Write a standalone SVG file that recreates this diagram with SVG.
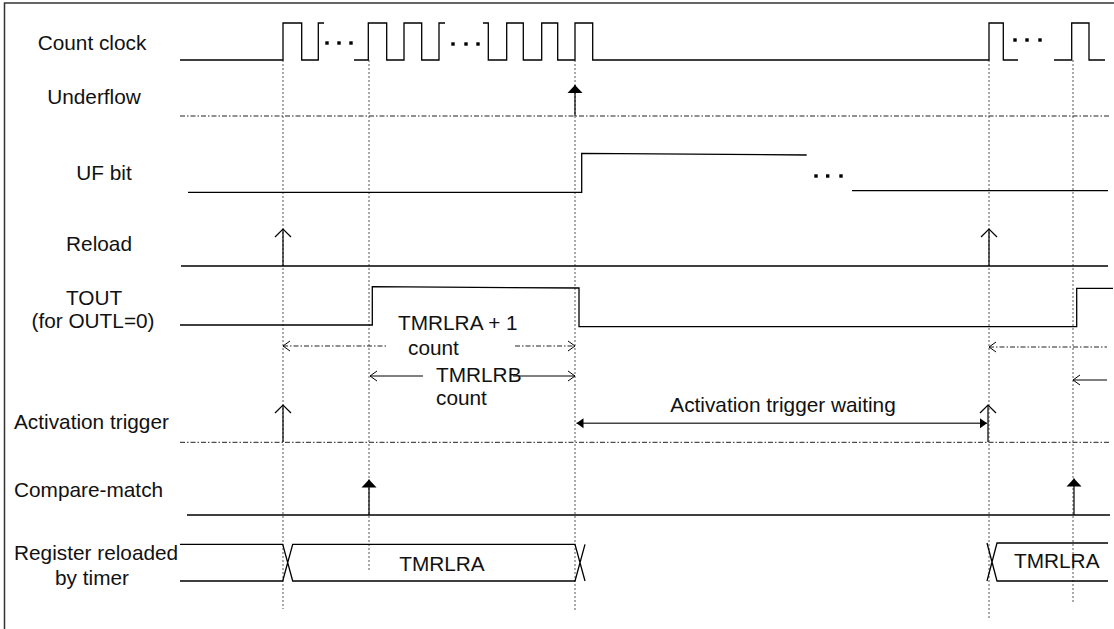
<svg xmlns="http://www.w3.org/2000/svg" width="1114" height="629" viewBox="0 0 1114 629">
<defs>
<style>
text{font-family:"Liberation Sans",Arial,sans-serif;font-size:20.8px;fill:#111}
.lbl{text-anchor:middle}
.w{fill:none;stroke:#000;stroke-width:1.3}
.dd{fill:none;stroke:#222;stroke-width:1;stroke-dasharray:5 2 1.5 2}
.guide{fill:none;stroke:#555;stroke-width:1;stroke-dasharray:2 2}
.ar{fill:none;stroke:#000;stroke-width:1.2}
.dot{fill:#000}
</style>
<marker id="vopen" markerUnits="userSpaceOnUse" orient="auto" overflow="visible" refX="0" refY="0" markerWidth="20" markerHeight="20"><path d="M-8,-8 L0,0 L-8,8" fill="none" stroke="#000" stroke-width="1.2"/></marker>
<marker id="dopen" markerUnits="userSpaceOnUse" orient="auto-start-reverse" overflow="visible" refX="0" refY="0" markerWidth="20" markerHeight="20"><path d="M-7,-5 L0,0 L-7,5" fill="none" stroke="#000" stroke-width="1"/></marker>
<marker id="ftri" markerUnits="userSpaceOnUse" orient="auto" overflow="visible" refX="0" refY="0" markerWidth="20" markerHeight="20"><path d="M-8,-7.5 L0,0 L-8,7.5 Z" fill="#000"/></marker>
<marker id="fsm" markerUnits="userSpaceOnUse" orient="auto-start-reverse" overflow="visible" refX="0" refY="0" markerWidth="20" markerHeight="20"><path d="M-7,-5 L0,0 L-7,5 Z" fill="#000"/></marker>
</defs>
<rect width="1114" height="629" fill="#fff"/>
<path d="M4.5,629 V3 H1114" fill="none" stroke="#333" stroke-width="1.5"/>

<g id="connectors">
  <path class="guide" d="M283,60 V609 M369,60 V572 M575,60 V611 M989,60 V618 M1073,60 V602"/>
  <path class="ar" d="M575,116 V85" marker-end="url(#ftri)"/>
  <path class="ar" d="M283,266 V229" marker-end="url(#vopen)"/>
  <path class="ar" d="M989,266 V229" marker-end="url(#vopen)"/>
  <path class="ar" d="M283,442 V405" marker-end="url(#vopen)"/>
  <path class="ar" d="M988,442 V405" marker-end="url(#vopen)"/>
  <path class="ar" d="M369,515 V479.5" marker-end="url(#ftri)"/>
  <path class="ar" d="M1074,515 V478.5" marker-end="url(#ftri)"/>
  <path class="dd" d="M283,346 H387" marker-start="url(#dopen)"/>
  <path class="dd" d="M515,346 H575" marker-end="url(#dopen)"/>
  <path class="dd" d="M989,347 H1107" marker-start="url(#dopen)"/>
  <path fill="none" stroke="#000" stroke-width="1" d="M370,376 H423" marker-start="url(#dopen)"/>
  <path fill="none" stroke="#000" stroke-width="1" d="M513,376 H575" marker-end="url(#dopen)"/>
  <path fill="none" stroke="#000" stroke-width="1" d="M1073,380 H1107" marker-start="url(#dopen)"/>
  <path fill="none" stroke="#444" stroke-width="1.6" d="M576.5,423.3 H987" marker-start="url(#fsm)" marker-end="url(#fsm)"/>
</g>

<g id="count-clock">
  <text class="lbl" x="92" y="50">Count clock</text>
  <path class="w" d="M180,60 H283 V23 H301.7 V60 H318.3 V23 H324 M354,60 H368.3 V23 H386.7 V60 H404 V23 H421.7 V60 H439 V23 H445 M483,23 H488.3 V60 H506.7 V23 H523.3 V60 H541.7 V23 H557.7 V60 H575 V23 H592.7 V60 H989 V23 H1003.3 V60 H1018 M1054,60 H1071.7 V23 H1089 V60 H1105"/>
  <rect class="dot" x="325.3" y="41.3" width="3.4" height="3.4"/>
  <rect class="dot" x="337.3" y="41.3" width="3.4" height="3.4"/>
  <rect class="dot" x="349.3" y="41.3" width="3.4" height="3.4"/>
  <rect class="dot" x="451.3" y="42.3" width="3.4" height="3.4"/>
  <rect class="dot" x="464.3" y="42.3" width="3.4" height="3.4"/>
  <rect class="dot" x="476.3" y="42.3" width="3.4" height="3.4"/>
  <rect class="dot" x="1013.3" y="38.3" width="3.4" height="3.4"/>
  <rect class="dot" x="1025.3" y="38.3" width="3.4" height="3.4"/>
  <rect class="dot" x="1038.3" y="38.3" width="3.4" height="3.4"/>
</g>

<g id="underflow">
  <text class="lbl" x="94" y="104">Underflow</text>
  <path class="dd" d="M180,116 H1110"/>
</g>

<g id="uf-bit">
  <text class="lbl" x="104" y="180">UF bit</text>
  <path class="w" d="M188,192.3 H581.7 V153.3 L806.7,155 M852,190.7 H1108"/>
  <rect class="dot" x="814.3" y="174.3" width="3.4" height="3.4"/>
  <rect class="dot" x="826" y="174.3" width="3.4" height="3.4"/>
  <rect class="dot" x="839.3" y="174.3" width="3.4" height="3.4"/>
</g>

<g id="reload">
  <text class="lbl" x="99" y="251">Reload</text>
  <path class="w" d="M181,266 H1108"/>
</g>

<g id="tout">
  <text class="lbl" x="94" y="305">TOUT</text>
  <text class="lbl" x="93" y="328">(for OUTL=0)</text>
  <path class="w" d="M180,325 H372.3 V286.7 L579,288 V326.7 H1076.7 V288.3 H1113"/>
  <text x="398" y="330">TMRLRA + 1</text>
  <text x="408" y="355">count</text>
  <text x="436" y="381.7">TMRLRB</text>
  <text x="436" y="405">count</text>
</g>

<g id="activation-trigger">
  <text x="14" y="429">Activation trigger</text>
  <path class="dd" d="M180,442.3 H1110"/>
  <text class="lbl" x="783" y="412">Activation trigger waiting</text>
</g>

<g id="compare-match">
  <text x="14" y="497">Compare-match</text>
  <path class="w" d="M187,515 H1110"/>
</g>

<g id="register">
  <text x="14" y="560">Register reloaded</text>
  <text class="lbl" x="92" y="585">by timer</text>
  <path class="w" d="M180,544.3 H282.7 L292.7,581 H575 L585,544.3 M180,581 H282.7 L292.7,544.3 H575 L585,581 M987,543 L997,581 H1108 M987,581 L997,543 H1108"/>
  <text class="lbl" x="442" y="571">TMRLRA</text>
  <text x="1014" y="568.3">TMRLRA</text>
</g>
</svg>
